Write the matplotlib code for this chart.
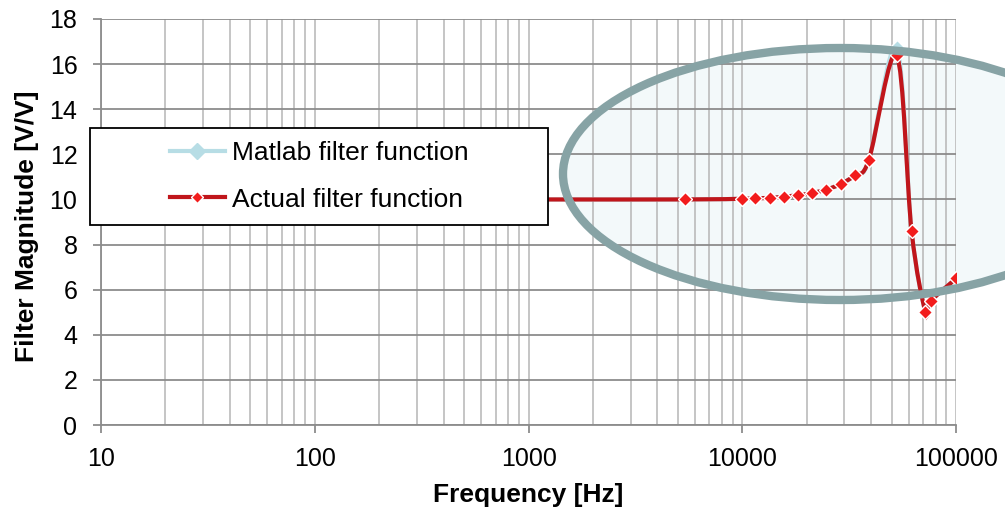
import numpy as np
import matplotlib

matplotlib.use("Agg")
import matplotlib.pyplot as plt
from matplotlib.path import Path
from matplotlib.patches import PathPatch, Ellipse, Rectangle
from matplotlib.transforms import IdentityTransform
from matplotlib.lines import Line2D

plt.rcParams["font.family"] = ["Liberation Sans", "DejaVu Sans"]

freq = [10, 100, 1000, 5360, 10000, 11500, 13400, 15600, 18200, 21100,
        24700, 28800, 33600, 39000, 52600, 61800, 71800, 76000, 100000]
actual = [10.0, 10.0, 10.0, 10.0, 10.03, 10.05, 10.07, 10.12, 10.19, 10.28,
          10.44, 10.68, 11.08, 11.75, 16.4, 8.6, 5.0, 5.5, 6.5]
matlab = [10.0, 10.0, 10.0, 10.0, 10.03, 10.05, 10.07, 10.12, 10.19, 10.28,
          10.44, 10.68, 11.08, 11.75, 16.75, 8.6, 5.0, 5.5, 6.5]

RED_LINE = "#C0161B"
RED_MARK = "#F21C1C"
BLUE = "#B7DDE5"
H = 509  # figure height in px


def smooth_path(xs, ys):
    # Excel-style smoothed line: Catmull-Rom bezier built in screen-like space
    lx = np.log10(xs)
    sx = (lx - lx[0]) * 214.0
    sy = np.asarray(ys) * 22.67
    verts = [(xs[0], ys[0])]
    codes = [Path.MOVETO]
    n = len(xs)
    for i in range(n - 1):
        p0 = i - 1 if i > 0 else i
        p3 = i + 2 if i + 2 < n else i + 1
        c1x = sx[i] + (sx[i + 1] - sx[p0]) / 6
        c1y = sy[i] + (sy[i + 1] - sy[p0]) / 6
        c2x = sx[i + 1] - (sx[p3] - sx[i]) / 6
        c2y = sy[i + 1] - (sy[p3] - sy[i]) / 6
        for cx, cy in ((c1x, c1y), (c2x, c2y)):
            verts.append((10 ** (cx / 214.0 + lx[0]), cy / 22.67))
        verts.append((xs[i + 1], ys[i + 1]))
        codes += [Path.CURVE4] * 3
    return Path(verts, codes)


fig = plt.figure(figsize=(10.05, 5.09), dpi=100)
ax = fig.add_axes([0.1005, 0.165, 0.851, 0.7977])
ax.set_xscale("log")
ax.set_xlim(10, 100000)
ax.set_ylim(0, 18)
ax.set_yticks(range(0, 19, 2))
ax.set_xticks([10, 100, 1000, 10000, 100000])
ax.set_xticklabels(["10", "100", "1000", "10000", "100000"])
ax.xaxis.set_minor_formatter(matplotlib.ticker.NullFormatter())

ax.grid(True, which="major", axis="y", color="#8C8C8C", linewidth=1.3)
ax.grid(True, which="both", axis="x", color="#C0C0C0", linewidth=1.3)
ax.set_axisbelow(True)
for s in ("top", "right"):
    ax.spines[s].set_visible(False)
for s in ("left", "bottom"):
    ax.spines[s].set_color("#8C8C8C")
    ax.spines[s].set_linewidth(1.3)
ax.tick_params(axis="both", which="major", direction="out", length=6,
               color="#8C8C8C", width=1.3, labelsize=18)
ax.tick_params(axis="y", pad=11)
ax.tick_params(axis="x", pad=9.5)
ax.tick_params(axis="x", which="minor", length=0)

# matlab line
ax.add_patch(PathPatch(smooth_path(freq, matlab), fill=False,
                       edgecolor=BLUE, linewidth=3, zorder=3))
ax.plot(freq, matlab, linestyle="none", marker="D", markersize=7,
        color=BLUE, markeredgecolor="white", zorder=3)
# actual line
ax.add_patch(PathPatch(smooth_path(freq, actual), fill=False,
                       edgecolor=RED_LINE, linewidth=3, zorder=4))
ax.plot(freq, actual, linestyle="none", marker="D", markersize=7,
        color=RED_MARK, markeredgecolor="white", markeredgewidth=1, zorder=5)

ax.set_xlabel("Frequency [Hz]", fontsize=19, fontweight="bold", labelpad=9)
ax.set_ylabel("Filter Magnitude [V/V]", fontsize=19, fontweight="bold")
ax.yaxis.set_label_coords(-0.072, 0.49)

# highlight ellipse (pixel coordinates): fill below the grid, outline on top
ell_c, ell_w, ell_h = (840, H - 174), 554, 252
ax.add_artist(Ellipse(ell_c, ell_w, ell_h, transform=IdentityTransform(),
                      facecolor="#F3F9FA", edgecolor="none", zorder=0.3,
                      clip_on=False))
ax.add_artist(Ellipse(ell_c, ell_w, ell_h, transform=IdentityTransform(),
                      facecolor="none", edgecolor="#87A3A5", linewidth=6,
                      zorder=8, clip_on=False))

# legend box
ax.add_artist(Rectangle((90, H - 225), 458, 97, transform=IdentityTransform(),
                        facecolor="white", edgecolor="black", linewidth=1.3,
                        zorder=9, clip_on=False))
handles = [
    Line2D([], [], color=BLUE, linewidth=3, marker="D", markersize=8,
           markeredgecolor=BLUE),
    Line2D([], [], color=RED_LINE, linewidth=3, marker="D", markersize=6,
           markerfacecolor=RED_MARK, markeredgecolor="white"),
]
leg = ax.legend(handles, ["Matlab filter function", "Actual filter function"],
                loc="center", bbox_to_anchor=(319 / 1005, 1 - 176.5 / H),
                bbox_transform=fig.transFigure, fontsize=19, frameon=False,
                handlelength=2.1, handletextpad=0.25, labelspacing=0.85,
                borderpad=0)
leg.set_zorder(10)

fig.savefig("out.png", dpi=100)
